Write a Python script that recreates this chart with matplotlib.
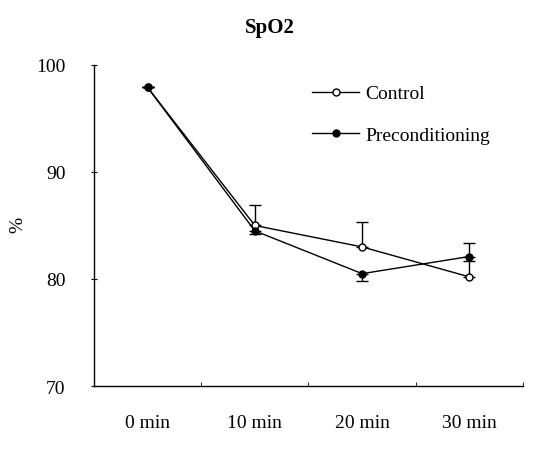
import matplotlib
matplotlib.use("Agg")
import matplotlib.pyplot as plt
from matplotlib.lines import Line2D
import numpy as np

plt.rcParams['font.family'] = ['Liberation Serif', 'DejaVu Serif']

# 数据
times = ["0 min", "10 min", "20 min", "30 min"]
control = [97.9, 85.0, 83.0, 80.2]
control_err_up = [0.0, 1.9, 2.3, 3.2]
precond = [97.9, 84.5, 80.5, 82.1]
precond_err_down = [0.0, 0.3, 0.7, 0.4]

x = np.arange(len(times))

fig = plt.figure(figsize=(5.38, 4.52), dpi=100)
ax = fig.add_axes([0.1747, 0.1438, 0.7973, 0.7102])

ax.errorbar(x, control, yerr=[np.zeros(len(x)), control_err_up],
            color="black", lw=1.0, marker="o", markersize=5,
            markerfacecolor="white", markeredgecolor="black",
            capsize=4, elinewidth=1.0, capthick=1.0, zorder=3)
ax.errorbar(x, precond, yerr=[precond_err_down, np.zeros(len(x))],
            color="black", lw=1.0, marker="o", markersize=5,
            markerfacecolor="black", markeredgecolor="black",
            capsize=4, elinewidth=1.0, capthick=1.0, zorder=3)

ax.set_xlim(-0.5, 3.5)
ax.set_ylim(70, 100)
ax.set_yticks([70, 80, 90, 100])
ax.set_xticks(x)
ax.set_xticklabels(times)
ax.set_xticks(np.arange(0.5, 4.0, 1.0), minor=True)
ax.tick_params(axis="x", which="major", length=0, pad=20, labelsize=14)
ax.tick_params(axis="x", which="minor", length=3, direction="in")
ax.tick_params(axis="y", length=5, direction="inout", pad=18, labelsize=14)

for s in ["top", "right"]:
    ax.spines[s].set_visible(False)
ax.spines["left"].set_linewidth(1.0)
ax.spines["bottom"].set_linewidth(1.0)

# y轴标签
fig.text(18 / 538, 1 - 225 / 452, "%", fontsize=14, rotation=90,
         ha="center", va="center")
ax.set_title("SpO2", fontsize=15, fontweight="bold", pad=24, x=0.41)

handles = [
    Line2D([], [], color="black", lw=1.0, marker="o", markersize=5,
           markerfacecolor="white", markeredgecolor="black"),
    Line2D([], [], color="black", lw=1.0, marker="o", markersize=5,
           markerfacecolor="black", markeredgecolor="black"),
]
ax.legend(handles, ["Control", "Preconditioning"], loc="upper left",
          bbox_to_anchor=(0.468, 0.993), frameon=False,
          fontsize=14, handlelength=2.4, numpoints=1, labelspacing=1.25,
          handletextpad=0.35)

plt.savefig("out.png", dpi=100)
plt.close()
